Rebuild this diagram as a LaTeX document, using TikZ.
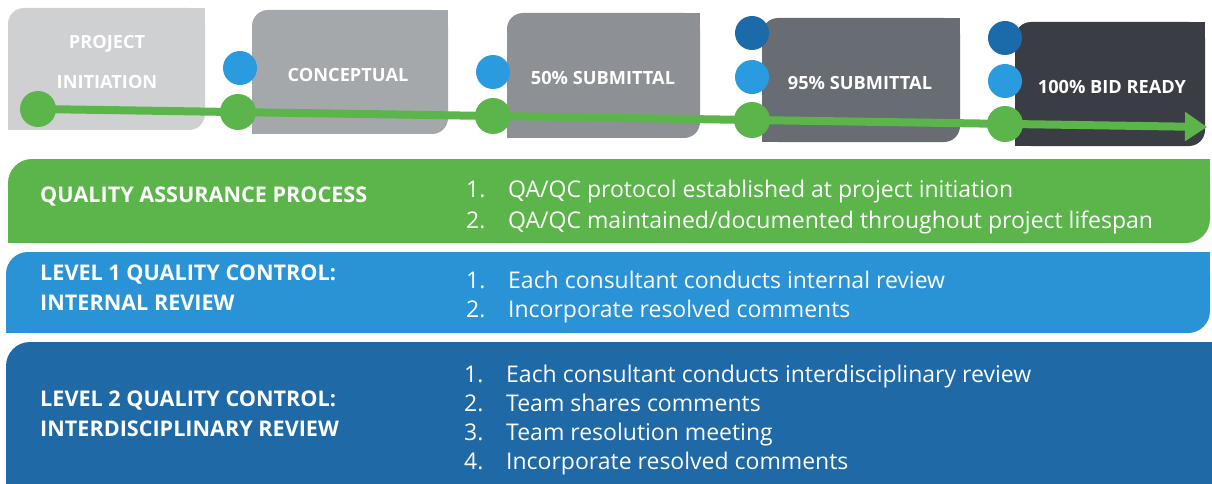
\documentclass[tikz,border=0pt]{standalone}
\usepackage{fontspec}
\setmainfont{Open Sans}
\usetikzlibrary{arrows.meta}
\definecolor{tabA}{HTML}{CFD0D2}
\definecolor{tabB}{HTML}{A5A8AB}
\definecolor{tabC}{HTML}{8D9196}
\definecolor{tabD}{HTML}{686D73}
\definecolor{tabE}{HTML}{3A3E44}
\definecolor{qgreen}{HTML}{5BB54B}
\definecolor{lblue}{HTML}{2A93D5}
\definecolor{dblue}{HTML}{1E69A6}
\definecolor{cblue}{HTML}{2A9BDF}
\definecolor{cdblue}{HTML}{1B6AAA}
\pgfdeclarelayer{back}
\pgfdeclarelayer{mid}
\pgfsetlayers{back,mid,main}
% x1 y1 x2 y2 colour radius : rounded top-left and bottom-right only
\newcommand{\tabfill}[6]{%
  \fill[#5,rounded corners=#6] (#1,#2) rectangle (#3,#4);
  \fill[#5] ({#3-#6},#2) rectangle (#3,{#2+#6});
  \fill[#5] (#1,{#4-#6}) rectangle ({#1+#6},#4);
}
\begin{document}
\begin{tikzpicture}[x=1pt,y=-1pt,
  tabtext/.style={text=white, font=\bfseries\fontsize{18.2}{40}\selectfont, align=center, inner sep=0pt},
  gdot/.style={circle, fill=qgreen, minimum size=36pt, inner sep=0pt},
  bdot/.style={circle, fill=cblue, minimum size=34pt, inner sep=0pt},
  ddot/.style={circle, fill=cdblue, minimum size=34pt, inner sep=0pt},
  bandlabel/.style={anchor=west, text=white, font=\bfseries\fontsize{21.6}{30}\selectfont, align=left, inner sep=0pt},
  banditems/.style={anchor=west, text=white, font=\fontsize{23}{29}\selectfont, align=left, inner sep=0pt},
  timeline/.style={line width=8pt, draw=qgreen, -{Triangle[length=22pt,width=28pt]}}
]
\useasboundingbox (0,0) rectangle (1212,484);
\clip (0,0) rectangle (1212,484);

\begin{pgfonlayer}{back}
  \fill[white] (0,0) rectangle (1212,484);
  \tabfill{8}{8}{205}{130}{tabA}{16}
  \tabfill{252}{10}{448}{134}{tabB}{16}
  \tabfill{507}{13}{700}{138}{tabC}{16}
  \tabfill{762}{18}{960}{142}{tabD}{16}
  \tabfill{1015}{22}{1205}{146}{tabE}{16}
  % bands
  \tabfill{8}{159}{1210}{243}{qgreen}{24}
  \tabfill{6}{252}{1210}{333}{lblue}{22}
  \fill[dblue,rounded corners=24] (6,342) rectangle (1260,540);
\end{pgfonlayer}

% tab labels
\node[tabtext] (t1) at (107,62) {PROJECT\\INITIATION};
\node[tabtext] (t2) at (348,75) {CONCEPTUAL};
\node[tabtext] (t3) at (603,78) {50\% SUBMITTAL};
\node[tabtext] (t4) at (860,83) {95\% SUBMITTAL};
\node[tabtext] (t5) at (1112,87) {100\% BID READY};

% timeline circles
\node[gdot] (g1) at (38,109) {};
\node[gdot] (g2) at (238,112) {};
\node[gdot] (g3) at (493,116) {};
\node[gdot] (g4) at (752,120) {};
\node[gdot] (g5) at (1005,124) {};
\coordinate (tend) at (1207,127);
\begin{pgfonlayer}{mid}
  \draw[timeline] (g1.center) -- (tend);
\end{pgfonlayer}

\node[bdot] (b2) at (240,68) {};
\node[bdot] (b3) at (493,72) {};
\node[ddot] (d4) at (752,33) {};
\node[bdot] (b4) at (752,77) {};
\node[ddot] (d5) at (1005,38) {};
\node[bdot] (b5) at (1005,81) {};

% band texts
\node[bandlabel] (qa) at (40,197) {QUALITY ASSURANCE PROCESS};
\node[banditems, font=\fontsize{23}{31}\selectfont] (qai) at (466,207) {\makebox[42pt][l]{1.}QA/QC protocol established at project initiation\\
\makebox[42pt][l]{2.}QA/QC maintained/documented throughout project lifespan};

\node[bandlabel] (l1) at (40,288) {LEVEL 1 QUALITY CONTROL:\\INTERNAL REVIEW};
\node[banditems] (l1i) at (466,297.5) {\makebox[42pt][l]{1.}Each consultant conducts internal review\\
\makebox[42pt][l]{2.}Incorporate resolved comments};

\node[bandlabel] (l2) at (40,413.5) {LEVEL 2 QUALITY CONTROL:\\INTERDISCIPLINARY REVIEW};
\node[banditems] (l2i) at (464,420) {\makebox[42pt][l]{1.}Each consultant conducts interdisciplinary review\\
\makebox[42pt][l]{2.}Team shares comments\\
\makebox[42pt][l]{3.}Team resolution meeting\\
\makebox[42pt][l]{4.}Incorporate resolved comments};
\end{tikzpicture}
\end{document}
